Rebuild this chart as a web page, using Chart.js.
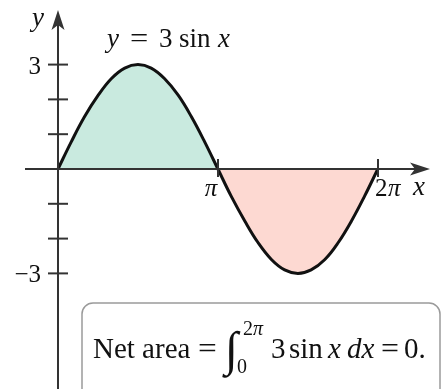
<!DOCTYPE html>
<html>
<head>
<meta charset="utf-8">
<script src="https://cdn.jsdelivr.net/npm/chart.js@4"></script>
<style>
  html, body { margin: 0; padding: 0; background: #fff; }
  #wrap { position: relative; width: 442px; height: 389px; }
</style>
</head>
<body>
<div id="wrap"><canvas id="grafico"></canvas></div>
<script>
const curveX = [0, 0.26, 0.52, 0.79, 1.05, 1.31, 1.57, 1.83, 2.09, 2.36, 2.62, 2.88, 3.14,
                3.40, 3.67, 3.93, 4.19, 4.45, 4.71, 4.97, 5.24, 5.50, 5.76, 6.02, 6.28];
const curveY = [0, 0.78, 1.5, 2.12, 2.6, 2.9, 3, 2.9, 2.6, 2.12, 1.5, 0.78, 0,
                -0.78, -1.5, -2.12, -2.6, -2.9, -3, -2.9, -2.6, -2.12, -1.5, -0.78, 0];
const yTicks = [3, 2, 1, -1, -2, -3];
const yTickLabels = ['3', '', '', '', '', '\u22123'];
const xTicks = [3.1416, 6.2832];
const xTickLabels = ['\u03c0', '2\u03c0'];

const corVerde = '#c9eadf';
const corRosa = '#fdd9d2';
const corEixo = '#333333';
const serif = '"Liberation Serif", "Times New Roman", serif';

// wide math-style equals sign
function igual(c, x, y, escala) {
    c.save();
    c.translate(x, 0);
    c.scale(escala, 1);
    c.fillText('=', 0, y);
    c.restore();
}

const eixosPlugin = {
    id: 'eixos',
    afterDatasetsDraw(chart) {
        const c = chart.ctx;
        const sx = chart.scales.x, sy = chart.scales.y;
        const x0 = sx.getPixelForValue(0), y0 = sy.getPixelForValue(0);
        c.save();
        c.strokeStyle = corEixo;
        c.fillStyle = corEixo;
        c.lineWidth = 2;

        // y axis
        c.beginPath();
        c.moveTo(x0, chart.height);
        c.lineTo(x0, 22);
        c.stroke();
        c.beginPath();
        c.moveTo(x0, 10); c.lineTo(x0 - 6.5, 30); c.lineTo(x0, 25); c.lineTo(x0 + 6.5, 30);
        c.closePath(); c.fill();

        // x axis
        c.beginPath();
        c.moveTo(25, y0);
        c.lineTo(418, y0);
        c.stroke();
        c.beginPath();
        c.moveTo(430, y0); c.lineTo(410, y0 - 6.5); c.lineTo(415, y0); c.lineTo(410, y0 + 6.5);
        c.closePath(); c.fill();

        // y ticks
        yTicks.forEach(v => {
            const py = sy.getPixelForValue(v);
            c.beginPath(); c.moveTo(x0 - 10, py); c.lineTo(x0 + 10, py); c.stroke();
        });
        // x ticks
        xTicks.forEach(v => {
            const px = sx.getPixelForValue(v);
            c.beginPath(); c.moveTo(px, y0 - 10); c.lineTo(px, y0 + 8); c.stroke();
        });

        c.fillStyle = '#111';
        c.textBaseline = 'alphabetic';
        c.font = '25px ' + serif;
        c.textAlign = 'right';
        yTicks.forEach((v, i) => {
            if (yTickLabels[i]) c.fillText(yTickLabels[i], x0 - 17, sy.getPixelForValue(v) + 9);
        });
        c.font = 'italic 25px ' + serif;
        c.textAlign = 'center';
        c.fillText(xTickLabels[0], sx.getPixelForValue(xTicks[0]) - 7, y0 + 27);
        c.font = '25px ' + serif;
        c.textAlign = 'left';
        c.fillText('2', sx.getPixelForValue(xTicks[1]) - 3, y0 + 27);
        c.font = 'italic 25px ' + serif;
        c.fillText('\u03c0', sx.getPixelForValue(xTicks[1]) + 10, y0 + 27);

        // axis names
        c.font = 'italic 27px ' + serif;
        c.fillText('x', 413, y0 + 26);
        c.fillText('y', 32, 26);

        // curve label
        c.font = 'italic 27px ' + serif;
        c.fillText('y', 107, 47);
        c.font = '27px ' + serif;
        igual(c, 130, 47, 1.2);
        c.fillText('3', 159, 47);
        c.fillText('sin', 179, 47);
        c.font = 'italic 27px ' + serif;
        c.fillText('x', 218, 47);

        // note box
        c.strokeStyle = '#9a9a9a';
        c.lineWidth = 1.5;
        c.beginPath();
        c.roundRect(82, 303, 358, 100, 11);
        c.stroke();

        const base = 358;
        c.fillStyle = '#111';
        c.font = '29px ' + serif;
        c.fillText('Net area', 93, base);
        igual(c, 198, base, 1.15);
        c.font = '48px ' + serif;
        c.fillText('\u222b', 225, base + 7);
        c.font = '20px ' + serif;
        c.fillText('2', 243, 335);
        c.font = 'italic 20px ' + serif;
        c.fillText('\u03c0', 253, 335);
        c.font = '20px ' + serif;
        c.fillText('0', 237, 373);
        c.font = '29px ' + serif;
        c.fillText('3', 271, base);
        c.fillText('sin', 289, base);
        c.font = 'italic 29px ' + serif;
        c.fillText('x', 328, base);
        c.fillText('dx', 347, base);
        c.font = '29px ' + serif;
        igual(c, 381, base, 1.1);
        c.fillText('0.', 404, base);
        c.restore();
    }
};

const pontos = curveX.map((x, i) => ({ x: x, y: curveY[i] }));

new Chart(document.getElementById('grafico').getContext('2d'), {
    type: 'line',
    data: {
        datasets: [{
            data: pontos,
            borderColor: '#111111',
            borderWidth: 3,
            pointRadius: 0,
            tension: 0.4,
            fill: { target: 'origin', above: corVerde, below: corRosa }
        }]
    },
    options: {
        responsive: true,
        maintainAspectRatio: false,
        animation: false,
        layout: { padding: 0 },
        plugins: {
            legend: { display: false },
            tooltip: { enabled: false },
            title: { display: false }
        },
        scales: {
            x: { type: 'linear', display: false, min: -1.1388, max: 7.540 },
            y: { type: 'linear', display: false, min: -6.322, max: 4.856 }
        }
    },
    plugins: [eixosPlugin]
});
</script>
</body>
</html>
